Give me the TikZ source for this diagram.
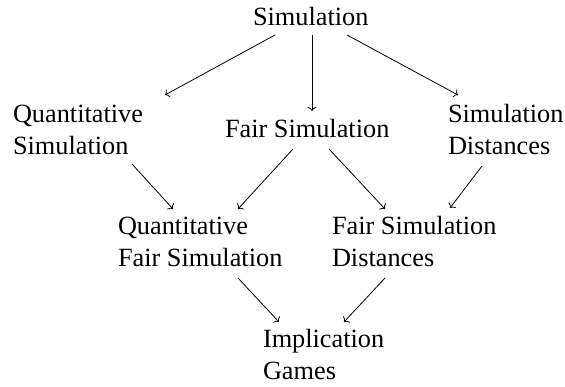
\documentclass[tikz,border=0pt]{standalone}
\usepackage{fontspec}
\setmainfont{Liberation Serif}
\usetikzlibrary{arrows.meta}
\tikzset{
  lbl/.style={anchor=base west, inner sep=0pt, outer sep=0pt,
    font=\fontsize{26.3}{32}\selectfont},
  conn/.style={draw, line width=0.8pt, -{To[length=4pt,width=9pt]}}
}
\newcommand{\twolines}[2]{\begin{tabular}[t]{@{}l@{}}#1\\#2\end{tabular}}
\begin{document}
\begin{tikzpicture}[x=1pt,y=-1pt]
\useasboundingbox (0,0) rectangle (565,387);
\node[lbl] (sim)  at (253,26)  {Simulation};
\node[lbl] (qs)   at (13,123)  {\twolines{Quantitative}{Simulation}};
\node[lbl] (fair) at (225,138) {Fair Simulation};
\node[lbl] (sd)   at (448,123) {\twolines{Simulation}{Distances}};
\node[lbl] (qfs)  at (118,235) {\twolines{Quantitative}{Fair Simulation}};
\node[lbl] (fsd)  at (332,235) {\twolines{Fair Simulation}{Distances}};
\node[lbl] (ig)   at (263,348) {\twolines{Implication}{Games}};
\path[conn] ([shift={(22,9)}]sim.base west)  -- ([shift={(152,-28)}]qs.base west);
\path[conn] ([shift={(59,9)}]sim.base west)  -- ([shift={(87,-27)}]fair.base west);
\path[conn] ([shift={(94,9)}]sim.base west)  -- ([shift={(10,-28)}]sd.base west);
\path[conn] ([shift={(119,41)}]qs.base west) -- ([shift={(55,-26)}]qfs.base west);
\path[conn] ([shift={(68,11)}]fair.base west) -- ([shift={(120,-26)}]qfs.base west);
\path[conn] ([shift={(104,11)}]fair.base west) -- ([shift={(53,-26)}]fsd.base west);
\path[conn] ([shift={(34,43)}]sd.base west)  -- ([shift={(118,-27)}]fsd.base west);
\path[conn] ([shift={(120,43)}]qfs.base west) -- ([shift={(16,-26)}]ig.base west);
\path[conn] ([shift={(53,43)}]fsd.base west) -- ([shift={(81,-26)}]ig.base west);
\end{tikzpicture}
\end{document}
